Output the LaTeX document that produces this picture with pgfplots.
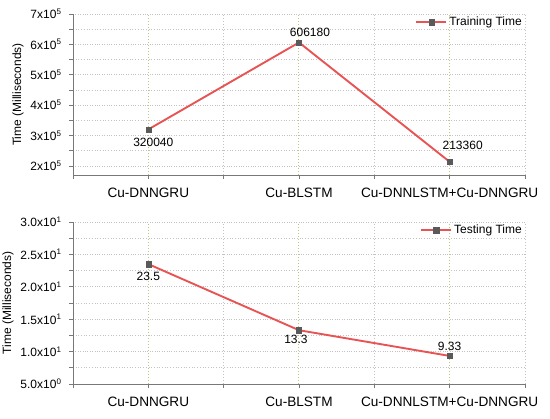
\documentclass[border=0pt]{standalone}
\usepackage{pgfplots}
\pgfplotsset{compat=1.18}
\usepackage{fontspec}
\setmainfont{Liberation Sans}
\definecolor{lred}{RGB}{232,84,84}
\definecolor{mgray}{RGB}{90,90,90}
\definecolor{gridgray}{RGB}{195,195,195}
\definecolor{gridyel}{RGB}{195,195,125}
\definecolor{axgray}{RGB}{120,120,120}
\pgfplotsset{
  myplot/.style={line width=1.9pt, lred,
      mark=square*, mark size=2.6pt,
      mark options={fill=mgray, draw=mgray, line width=0.4pt, solid}},
  mystyle/.style={
    scale only axis, width=452pt, height=161pt,
    axis x line=bottom, axis y line=left,
    axis line style={-, axgray, line width=0.8pt},
    xmin=-0.5, xmax=2.5,
    xtick={0,1,2},
    xticklabels={Cu-DNNGRU,Cu-BLSTM,Cu-DNNLSTM+Cu-DNNGRU},
    minor xtick={-0.5,0.5,1.5,2.5},
    scaled y ticks=false,
    tick align=outside,
    major tick length=4pt, minor tick length=4pt,
    every tick/.style={axgray, line width=0.6pt},
    xmajorgrids, xminorgrids, ymajorgrids, yminorgrids,
    x grid style={dash pattern=on 1pt off 2pt, gridyel, line width=1pt},
    minor x grid style={dotted, gridgray, line width=0.7pt},
    y grid style={dotted, gridgray, line width=0.7pt},
    minor y grid style={dotted, gridgray, line width=0.7pt},
    /pgf/number format/assume math mode=true,
    xticklabel style={font=\fontsize{13.6}{15}\selectfont, yshift=-5pt},
    yticklabel style={font=\fontsize{12}{14}\selectfont, xshift=-4pt},
    ylabel style={font=\fontsize{12}{14}\selectfont},
    ylabel={Time (Milliseconds)},
    legend style={at={(rel axis cs:1,1)}, anchor=north east, draw=none, fill=none,
      font=\fontsize{12}{14}\selectfont, inner sep=1pt},
    legend image code/.code={
      \draw[#1] (0pt,0pt) -- (30pt,0pt);
      \draw[#1, only marks] plot coordinates {(15pt,0pt)};
    },
    clip=false,
  }
}
\begin{document}
\begin{tikzpicture}
\path[use as bounding box] (0,0) rectangle (550pt,419pt);
\begin{axis}[mystyle, at={(73pt,244pt)}, anchor=south west,
  ymin=1.7e5, ymax=7e5,
  ytick={2e5,3e5,4e5,5e5,6e5,7e5},
  yticklabels={2x10\textsuperscript{5},3x10\textsuperscript{5},4x10\textsuperscript{5},5x10\textsuperscript{5},6x10\textsuperscript{5},7x10\textsuperscript{5}},
  minor ytick={2.5e5,3.5e5,4.5e5,5.5e5,6.5e5},
]
\addplot[myplot] coordinates {(0,320040) (1,606180) (2,213360)};
\addlegendentry{Training Time}
\node[font=\fontsize{12}{14}\selectfont] at (axis cs:0,320040) [xshift=5pt, yshift=-13pt] {320040};
\node[font=\fontsize{12}{14}\selectfont] at (axis cs:1,606180) [xshift=11pt, yshift=10pt] {606180};
\node[font=\fontsize{12}{14}\selectfont] at (axis cs:2,213360) [xshift=13pt, yshift=16pt] {213360};
\end{axis}
\begin{axis}[mystyle, at={(73pt,35pt)}, anchor=south west, height=162pt,
  ymin=5, ymax=30,
  ytick={5,10,15,20,25,30},
  yticklabels={5.0x10\textsuperscript{0},1.0x10\textsuperscript{1},1.5x10\textsuperscript{1},2.0x10\textsuperscript{1},2.5x10\textsuperscript{1},3.0x10\textsuperscript{1}},
  minor ytick={7.5,12.5,17.5,22.5,27.5},
]
\addplot[myplot] coordinates {(0,23.5) (1,13.3) (2,9.33)};
\addlegendentry{Testing Time}
\node[font=\fontsize{12}{14}\selectfont] at (axis cs:0,23.5) [yshift=-12pt] {23.5};
\node[font=\fontsize{12}{14}\selectfont] at (axis cs:1,13.3) [xshift=-3pt, yshift=-9pt] {13.3};
\node[font=\fontsize{12}{14}\selectfont] at (axis cs:2,9.33) [yshift=10pt] {9.33};
\end{axis}
\end{tikzpicture}
\end{document}
